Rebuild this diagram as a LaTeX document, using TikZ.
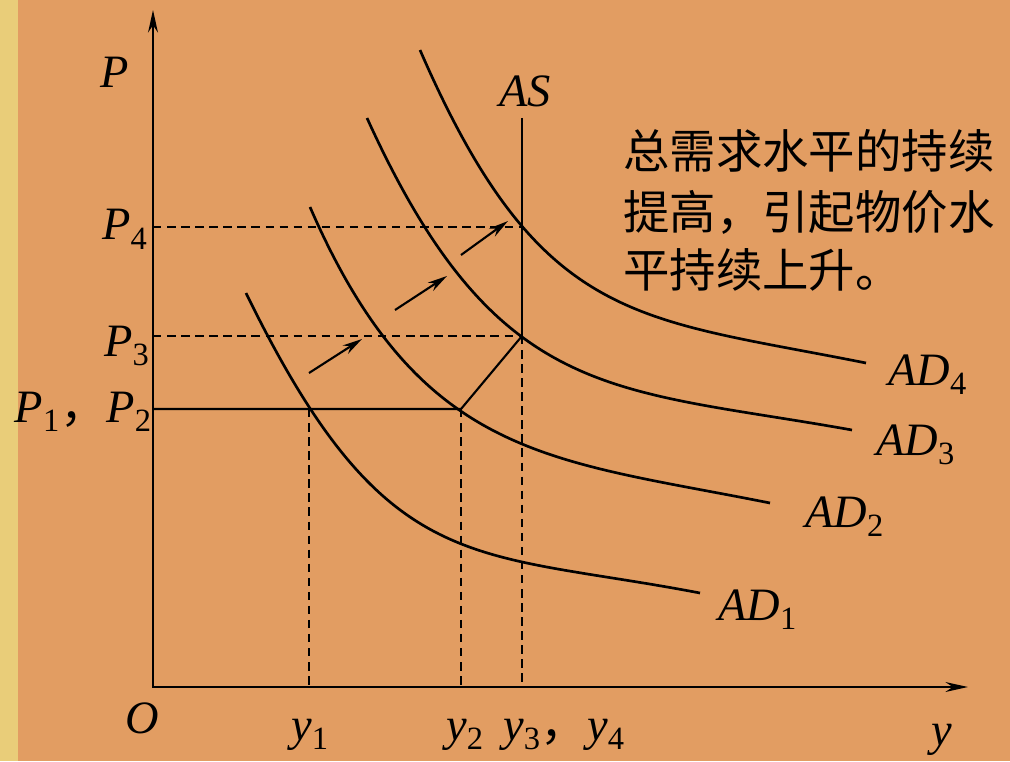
\documentclass[tikz,border=0pt]{standalone}
\usepackage{fontspec}
\setmainfont{Liberation Serif}
\newfontfamily\cjk{Noto Sans CJK SC}
\usetikzlibrary{arrows.meta}
\definecolor{bgorange}{RGB}{226,157,98}
\definecolor{bgstrip}{RGB}{233,205,121}
\newcommand{\lsub}[1]{\textsubscript{\upshape #1}}

\begin{document}
\begin{tikzpicture}[
    x=0.025cm, y=-0.025cm,
    axis/.style={line width=1.9pt, {Stealth[length=16pt,width=7pt]}-{Stealth[length=16pt,width=7pt]}},
    curve/.style={line width=1.9pt},
    guide/.style={line width=1.5pt, dash pattern=on 6pt off 4pt},
    level/.style={line width=1.5pt},
    pushup/.style={line width=1.5pt, -{Stealth[length=14pt,width=7pt]}},
    lab/.style={inner sep=0pt, font=\fontsize{33pt}{40pt}\selectfont\itshape},
    note/.style={inner sep=0pt, anchor=base west, font=\cjk\fontsize{33pt}{40pt}\selectfont}
]
\useasboundingbox (0,0) rectangle (1010,761);
\fill[bgorange] (0,0) rectangle (1010,761);
\fill[bgstrip] (0,0) rectangle (18,761);

% axes
\coordinate (O) at (153,687);
\coordinate (ytop) at (153,10);
\coordinate (xend) at (968,687);
\draw[axis] (ytop) -- (O) -- (xend);

% equilibrium points
\coordinate (E1) at (309,409);
\coordinate (E2) at (461,409);
\coordinate (E3) at (522,336);
\coordinate (E4) at (522,227);
\coordinate (AStop) at (522,118);
\coordinate (P12) at (153,409);
\coordinate (P3) at (153,336);
\coordinate (P4) at (153,227);
\coordinate (Y1) at (309,687);
\coordinate (Y2) at (461,687);
\coordinate (Y3) at (522,687);

\draw[level] (AStop) -- (E3);
\draw[guide] (E3) -- (Y3);
\draw[guide] (P4) -- (E4);
\draw[guide] (P3) -- (E3);
\draw[level] (P12) -- (E2) -- (E3);
\draw[guide] (E1) -- (Y1);
\draw[guide] (E2) -- (Y2);

% AD curves
\draw[curve] (246,293) .. controls (386,580) and (470,549) .. (700,593);
\draw[curve] (310,207) .. controls (420,460) and (550,459) .. (770,503);
\draw[curve] (367,118) .. controls (497,404) and (612,387) .. (852,430);
\draw[curve] (420,50) .. controls (540,326) and (636,317) .. (866,363);

% shifts of demand
\coordinate (s1a) at (309,373);
\coordinate (s1b) at (362,339);
\coordinate (s2a) at (395,310);
\coordinate (s2b) at (447,276);
\coordinate (s3a) at (461,255);
\coordinate (s3b) at (508,221);
\draw[pushup] (s1a) -- (s1b);
\draw[pushup] (s2a) -- (s2b);
\draw[pushup] (s3a) -- (s3b);

% labels
\node[lab, anchor=base] (labP) at (115,88) {P};
\node[lab, anchor=base] (labAS) at (525,107) {AS};
\node[lab, anchor=base] (labP4) at (125,240) {P\lsub{4}};
\node[lab, anchor=base] (labP3) at (127,356) {P\lsub{3}};
\node[lab, anchor=base east] (labP12) at (152,422) {P\lsub{1}{\upshape\cjk ，}P\lsub{2}};
\node[lab, anchor=base] (labO) at (142,733) {O};
\node[lab, anchor=base] (laby1) at (310,740) {y\lsub{1}};
\node[lab, anchor=base] (laby2) at (465,740) {y\lsub{2}};
\node[lab, anchor=base west] (laby34) at (503,740) {y\lsub{3}{\upshape\cjk ，}y\lsub{4}};
\node[lab, anchor=base] (laby) at (942,745) {y};
\node[lab, anchor=base west] (labAD4) at (888,385) {AD\lsub{4}};
\node[lab, anchor=base west] (labAD3) at (876,455) {AD\lsub{3}};
\node[lab, anchor=base west] (labAD2) at (805,527) {AD\lsub{2}};
\node[lab, anchor=base west] (labAD1) at (718,620) {AD\lsub{1}};

% note
\node[note] (cn1) at (623,169) {总需求水平的持续};
\node[note] (cn2) at (623,229) {提高，引起物价水};
\node[note] (cn3) at (623,287) {平持续上升。};
\end{tikzpicture}
\end{document}
